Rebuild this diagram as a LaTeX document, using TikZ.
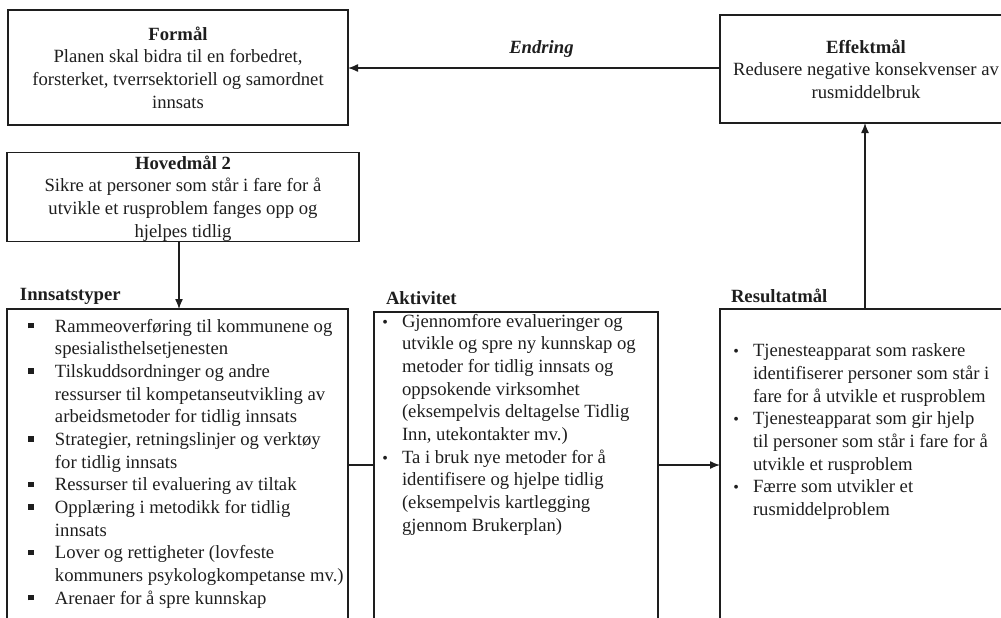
\documentclass[tikz,border=0pt]{standalone}
\usepackage{fontspec}
\setmainfont{Liberation Serif}
\usetikzlibrary{arrows.meta}
\definecolor{ink}{RGB}{30,30,30}
\newcommand{\sqbul}{\llap{\rule[2.8pt]{4pt}{4pt}\hspace{16pt}}}
\newcommand{\dotbul}{\llap{{\fontsize{12}{12}\selectfont\textbullet}\hspace{10.5pt}}}
\begin{document}
\begin{tikzpicture}[x=0.75pt,y=-0.75pt,
  every node/.style={inner sep=0pt, outer sep=0pt, text=ink,
    font=\fontsize{14}{17}\selectfont},
  box/.style={draw=ink, line width=1.2pt, rectangle, align=center},
  link/.style={draw=ink, line width=1pt},
  arr/.style={link, -{Latex[length=7.5pt,width=6pt]}},
  head/.style={font=\fontsize{14}{17}\selectfont\bfseries, anchor=west},
  list/.style={anchor=north west, align=left}]
\useasboundingbox (0,0) rectangle (1001,618);
\clip (0,0) rectangle (1001,618);

% top row: purpose and impact goal
\node[box, minimum width=255pt, minimum height=86.25pt] (formal) at (178,67.5)
  {\textbf{Formål}\\Planen skal bidra til en forbedret,\\forsterket, tverrsektoriell og samordnet\\innsats};
\node[box, minimum width=219pt, minimum height=81pt] (effekt) at (866,69)
  {\textbf{Effektmål}\\Redusere negative konsekvenser av\\rusmiddelbruk};

% main goal
\node[box, minimum width=264pt, minimum height=66pt] (hoved) at (183,197)
  {\rule{0pt}{12.5pt}\textbf{Hovedmål 2}\\Sikre at personer som står i fare for å\\utvikle et rusproblem fanges opp og\\hjelpes tidlig};

% column headings
\node[head] (hInn) at (20,296) {Innsatstyper};
\node[head] (hAkt) at (386,298) {Aktivitet};
\node[head] (hRes) at (731,296) {Resultatmål};

% lower boxes (run past the page edge)
\node[box, minimum width=255.75pt, minimum height=255.75pt] (inn) at (177.5,479.5) {};
\node[box, minimum width=213pt, minimum height=253.5pt] (akt) at (516,481) {};
\node[box, minimum width=225pt, minimum height=255.75pt] (res) at (870,479.5) {};

% list contents
\node[list] (innList) at (55,319) {%
\sqbul Rammeoverføring til kommunene og\\
spesialisthelsetjenesten\\
\sqbul Tilskuddsordninger og andre\\
ressurser til kompetanseutvikling av\\
arbeidsmetoder for tidlig innsats\\
\sqbul Strategier, retningslinjer og verktøy\\
for tidlig innsats\\
\sqbul Ressurser til evaluering av tiltak\\
\sqbul Opplæring i metodikk for tidlig\\
innsats\\
\sqbul Lover og rettigheter (lovfeste\\
kommuners psykologkompetanse mv.)\\
\sqbul Arenaer for å spre kunnskap};

\node[list] (aktList) at (402,314) {%
\dotbul Gjennomfore evalueringer og\\
utvikle og spre ny kunnskap og\\
metoder for tidlig innsats og\\
oppsokende virksomhet\\
(eksempelvis deltagelse Tidlig\\
Inn, utekontakter mv.)\\
\dotbul Ta i bruk nye metoder for å\\
identifisere og hjelpe tidlig\\
(eksempelvis kartlegging\\
gjennom Brukerplan)};

\node[list] (resList) at (753,344) {%
\dotbul Tjenesteapparat som raskere\\
identifiserer personer som står i\\
fare for å utvikle et rusproblem\\
\dotbul Tjenesteapparat som gir hjelp\\
til personer som står i fare for å\\
utvikle et rusproblem\\
\dotbul Færre som utvikler et\\
rusmiddelproblem};

% connectors
\coordinate (eY) at (720,68);
\draw[arr] (effekt.west |- eY) -- (formal.east |- eY)
  node[pos=0.48, above=8pt, font=\fontsize{14}{17}\selectfont\bfseries\itshape] (endring) {Endring};

\coordinate (hX) at (179,241);
\draw[arr] (hoved.south -| hX) -- (inn.north -| hX);

\coordinate (mY) at (348,465);
\draw[link] (inn.east |- mY) -- (akt.west |- mY);
\draw[arr] (akt.east |- mY) -- (res.west |- mY);

\coordinate (rX) at (865,309);
\draw[arr] (res.north -| rX) -- (effekt.south -| rX);
\end{tikzpicture}
\end{document}
